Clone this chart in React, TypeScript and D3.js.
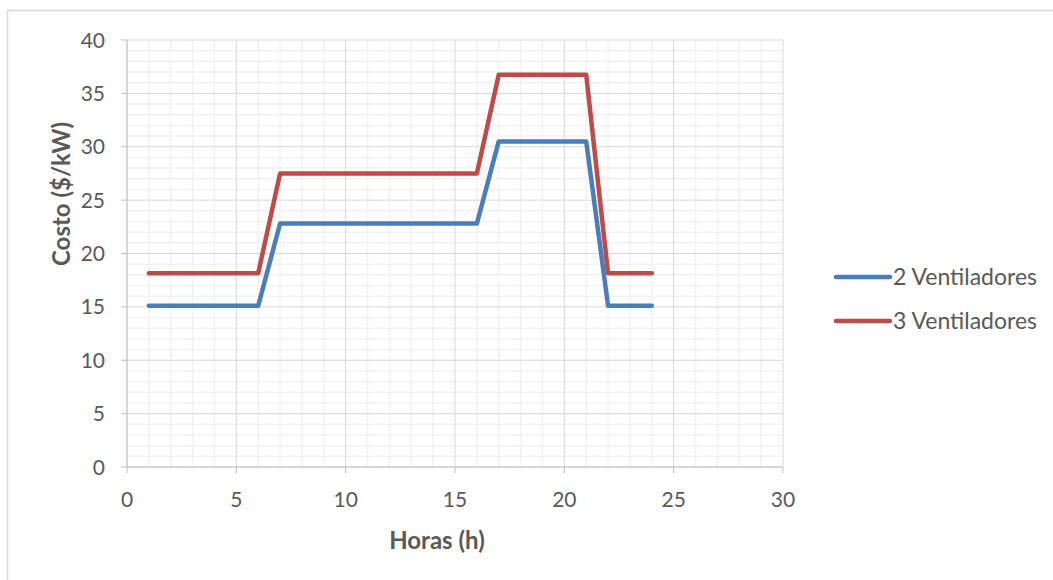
import React from "react";
import * as d3 from "d3";

const hours = [1, 2, 3, 4, 5, 6, 7, 8, 9, 10, 11, 12, 13, 14, 15, 16, 17, 18, 19, 20, 21, 22, 23, 24];
const dosVentiladores = [15.1, 15.1, 15.1, 15.1, 15.1, 15.1, 22.8, 22.8, 22.8, 22.8, 22.8, 22.8, 22.8, 22.8, 22.8, 22.8, 30.5, 30.5, 30.5, 30.5, 30.5, 15.1, 15.1, 15.1];
const tresVentiladores = [18.15, 18.15, 18.15, 18.15, 18.15, 18.15, 27.5, 27.5, 27.5, 27.5, 27.5, 27.5, 27.5, 27.5, 27.5, 27.5, 36.75, 36.75, 36.75, 36.75, 36.75, 18.15, 18.15, 18.15];
const xTicks = [0, 5, 10, 15, 20, 25, 30];
const yTicks = [0, 5, 10, 15, 20, 25, 30, 35, 40];
const seriesNames = ["2 Ventiladores", "3 Ventiladores"];
const seriesColors = ["#4a7ebb", "#be4b48"];

const W = 1053;
const H = 580;
const left = 127;
const right = 783;
const top = 40;
const bottom = 467;
const font = "Lato, 'Open Sans', 'Liberation Sans', sans-serif";
const textColor = "#595959";

export default function App() {
  const x = d3.scaleLinear().domain([0, 30]).range([left, right]);
  const y = d3.scaleLinear().domain([0, 40]).range([bottom, top]);
  const line = d3
    .line<number>()
    .x((_, i) => x(hours[i]))
    .y((d) => y(d));

  const minorX = d3.range(0, 31, 1).filter((v) => v % 5 !== 0);
  const minorY = d3.range(0, 41, 1).filter((v) => v % 5 !== 0);
  const series = [dosVentiladores, tresVentiladores];

  return (
    <svg
      width={W}
      height={H}
      style={{ position: "absolute", left: 0, top: 0, background: "#fff" }}
    >
      <rect x={0} y={0} width={W} height={H} fill="#fff" />
      {/* chart frame */}
      <path d={`M7.5,${H} V10.5 H${W}`} fill="none" stroke="#d9d9d9" strokeWidth={1.5} />

      {/* minor gridlines */}
      {minorX.map((v) => (
        <line key={"mx" + v} x1={x(v)} x2={x(v)} y1={top} y2={bottom} stroke="#f2f2f2" strokeWidth={1.5} />
      ))}
      {minorY.map((v) => (
        <line key={"my" + v} x1={left} x2={right} y1={y(v)} y2={y(v)} stroke="#f2f2f2" strokeWidth={1.5} />
      ))}
      {/* major gridlines */}
      {xTicks.map((v) => (
        <line key={"gx" + v} x1={x(v)} x2={x(v)} y1={top} y2={bottom} stroke="#d9d9d9" strokeWidth={1} />
      ))}
      {yTicks.map((v) => (
        <line key={"gy" + v} x1={left} x2={right} y1={y(v)} y2={y(v)} stroke="#d9d9d9" strokeWidth={1} />
      ))}

      {/* axes */}
      <line x1={left} x2={left} y1={top} y2={bottom} stroke="#bfbfbf" strokeWidth={1} />
      <line x1={left} x2={right} y1={bottom} y2={bottom} stroke="#bfbfbf" strokeWidth={1} />
      {yTicks.map((v) => (
        <g key={"ty" + v}>
          <line x1={left - 6} x2={left} y1={y(v)} y2={y(v)} stroke="#bfbfbf" />
          <text
            x={left - 22}
            y={y(v)}
            dy="0.36em"
            textAnchor="end"
            fontFamily={font}
            fontSize={21}
            fill={textColor}
          >
            {v}
          </text>
        </g>
      ))}
      {xTicks.map((v) => (
        <g key={"tx" + v}>
          <line x1={x(v)} x2={x(v)} y1={bottom} y2={bottom + 6} stroke="#bfbfbf" />
          <text
            x={x(v)}
            y={bottom + 40}
            textAnchor="middle"
            fontFamily={font}
            fontSize={21}
            fill={textColor}
          >
            {v}
          </text>
        </g>
      ))}

      {/* series */}
      {series.map((s, i) => (
        <path
          key={seriesNames[i]}
          d={line(s) ?? ""}
          fill="none"
          stroke={seriesColors[i]}
          strokeWidth={4.5}
          strokeLinejoin="round"
          strokeLinecap="round"
        />
      ))}

      {/* axis titles */}
      <text
        x={437}
        y={549}
        textAnchor="middle"
        fontFamily={font}
        fontSize={24}
        fontWeight="bold"
        fill={textColor}
      >
        Horas (h)
      </text>
      <text
        transform={`translate(70, 266) rotate(-90)`}
        textAnchor="start"
        fontFamily={font}
        fontSize={24}
        fontWeight="bold"
        fill={textColor}
      >
        Costo ($/kW)
      </text>

      {/* legend */}
      {seriesNames.map((name, i) => (
        <g key={"lg" + name} transform={`translate(0, ${277 + i * 44})`}>
          <line x1={836} x2={890} y1={0} y2={0} stroke={seriesColors[i]} strokeWidth={4.5} strokeLinecap="round" />
          <text x={893} y={0} dy="0.36em" fontFamily={font} fontSize={23} fill={textColor}>
            {name}
          </text>
        </g>
      ))}
    </svg>
  );
}
